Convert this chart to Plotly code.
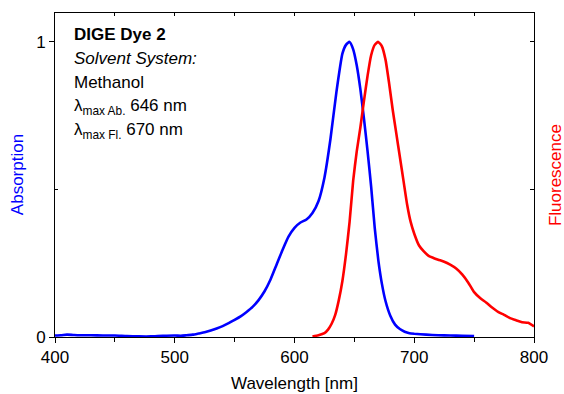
import plotly.graph_objects as go

# Absorption spectrum (blue)
abs_wavelength = [400, 405, 410, 415, 420, 430, 440, 450, 460, 470, 480, 490, 500, 505, 510, 515,
                  520, 525, 530, 535, 540, 545, 550, 555, 560, 565, 570, 575, 580, 585, 590, 595,
                  600, 605, 610, 615, 620, 625, 630, 635, 640, 643, 646, 649, 652, 655, 658, 661,
                  664, 667, 670, 673, 676, 680, 684, 688, 692, 696, 700, 710, 720, 730, 740, 750]
abs_values = [0.005, 0.006, 0.008, 0.007, 0.006, 0.006, 0.005, 0.005, 0.003, 0.002, 0.002, 0.004,
              0.005, 0.004, 0.006, 0.008, 0.012, 0.016, 0.022, 0.029, 0.037, 0.047, 0.058, 0.070,
              0.085, 0.102, 0.125, 0.155, 0.195, 0.245, 0.295, 0.34, 0.37, 0.388, 0.398, 0.42,
              0.46, 0.54, 0.67, 0.83, 0.96, 0.99, 1.0, 0.975, 0.92, 0.84, 0.74, 0.63, 0.51, 0.37,
              0.26, 0.18, 0.122, 0.072, 0.042, 0.027, 0.018, 0.013, 0.011, 0.008, 0.006, 0.005,
              0.004, 0.003]

# Fluorescence spectrum (red)
fl_wavelength = [615, 620, 625, 628, 631, 634, 637, 640, 643, 646, 649, 652, 655, 658, 661, 664,
                 667, 670, 673, 676, 679, 682, 685, 688, 691, 694, 697, 700, 704, 708, 712, 716,
                 720, 725, 730, 735, 740, 745, 750, 755, 760, 765, 770, 775, 780, 785, 790, 795, 800]
fl_values = [0.002, 0.006, 0.013, 0.025, 0.045, 0.075, 0.125, 0.19, 0.28, 0.39, 0.53, 0.63, 0.71,
             0.80, 0.885, 0.955, 0.99, 1.0, 0.985, 0.94, 0.86, 0.77, 0.69, 0.61, 0.53, 0.45, 0.39,
             0.35, 0.31, 0.29, 0.275, 0.268, 0.262, 0.255, 0.245, 0.232, 0.212, 0.185, 0.152,
             0.132, 0.117, 0.10, 0.085, 0.075, 0.064, 0.057, 0.05, 0.048, 0.036]

x_tickvals = [400, 500, 600, 700, 800]
y_tickvals = [0, 1]

FONT = "Liberation Sans, Arial, sans-serif"

fig = go.Figure()
fig.add_trace(go.Scatter(x=abs_wavelength, y=abs_values, mode="lines",
                         line=dict(color="#0000ff", width=2.6, shape="spline", smoothing=0.5),
                         name="Absorption", xaxis="x", yaxis="y"))
fig.add_trace(go.Scatter(x=fl_wavelength, y=fl_values, mode="lines",
                         line=dict(color="#ff0000", width=2.6, shape="spline", smoothing=0.5),
                         name="Fluorescence", xaxis="x2", yaxis="y2"))

axis_common = dict(showgrid=False, zeroline=False, showline=True, linecolor="black", linewidth=1)

fig.update_layout(
    width=564, height=394,
    margin=dict(l=55, r=30, t=13, b=57),
    paper_bgcolor="white", plot_bgcolor="white",
    showlegend=False,
    font=dict(family=FONT, size=17, color="black"),
    xaxis=dict(range=[400, 800], tickvals=x_tickvals, ticks="outside", ticklen=5,
               tickcolor="black", tickfont=dict(size=17),
               minor=dict(dtick=50, tick0=400, ticks="outside", ticklen=4, tickcolor="black"),
               **axis_common),
    xaxis2=dict(range=[400, 800], overlaying="x", side="top", anchor="y2", dtick=50, tick0=400,
                ticks="inside", ticklen=3, tickcolor="black", showticklabels=False, **axis_common),
    yaxis=dict(range=[0, 1.098], tickvals=y_tickvals, ticks="outside", ticklen=5,
               tickcolor="black", tickfont=dict(size=17),
               minor=dict(tickvals=[0.5], ticks="inside", ticklen=3, tickcolor="black"),
               **axis_common),
    yaxis2=dict(range=[0, 1.098], overlaying="y", side="right", anchor="x2", tickvals=[0.5, 1],
                ticks="inside", ticklen=4, tickcolor="black", showticklabels=False, **axis_common),
)

annotations = [
    dict(text="<b>DIGE Dye 2</b>", x=0.0355, y=0.933, size=17),
    dict(text="<i>Solvent System:</i>", x=0.0355, y=0.859, size=17),
    dict(text="Methanol", x=0.0355, y=0.784, size=17),
    dict(text="λ<sub>max Ab.</sub> 646 nm", x=0.0355, y=0.71, size=17),
    dict(text="λ<sub>max Fl.</sub> 670 nm", x=0.0355, y=0.636, size=17),
]
for a in annotations:
    fig.add_annotation(xref="paper", yref="paper", xanchor="left", yanchor="middle",
                       showarrow=False, text=a["text"], x=a["x"], y=a["y"],
                       font=dict(size=a["size"], color="black", family=FONT))

fig.add_annotation(text="Absorption", xref="paper", yref="paper", x=-0.079, y=0.5,
                   xanchor="center", yanchor="middle", textangle=-90, showarrow=False,
                   font=dict(size=17, color="#0000ff", family=FONT))
fig.add_annotation(text="Fluorescence", xref="paper", yref="paper", x=1.044, y=0.5,
                   xanchor="center", yanchor="middle", textangle=-90, showarrow=False,
                   font=dict(size=17, color="#ff0000", family=FONT))
fig.add_annotation(text="Wavelength [nm]", xref="paper", yref="paper", x=0.5, y=-0.142,
                   xanchor="center", yanchor="middle", showarrow=False,
                   font=dict(size=17, color="black", family=FONT))

# Remove the default 8px page margin so the figure fills the window exactly.
fig.write_html("out.html", config={"displayModeBar": False},
               post_script="document.body.style.margin='0';document.body.style.overflow='hidden';")
